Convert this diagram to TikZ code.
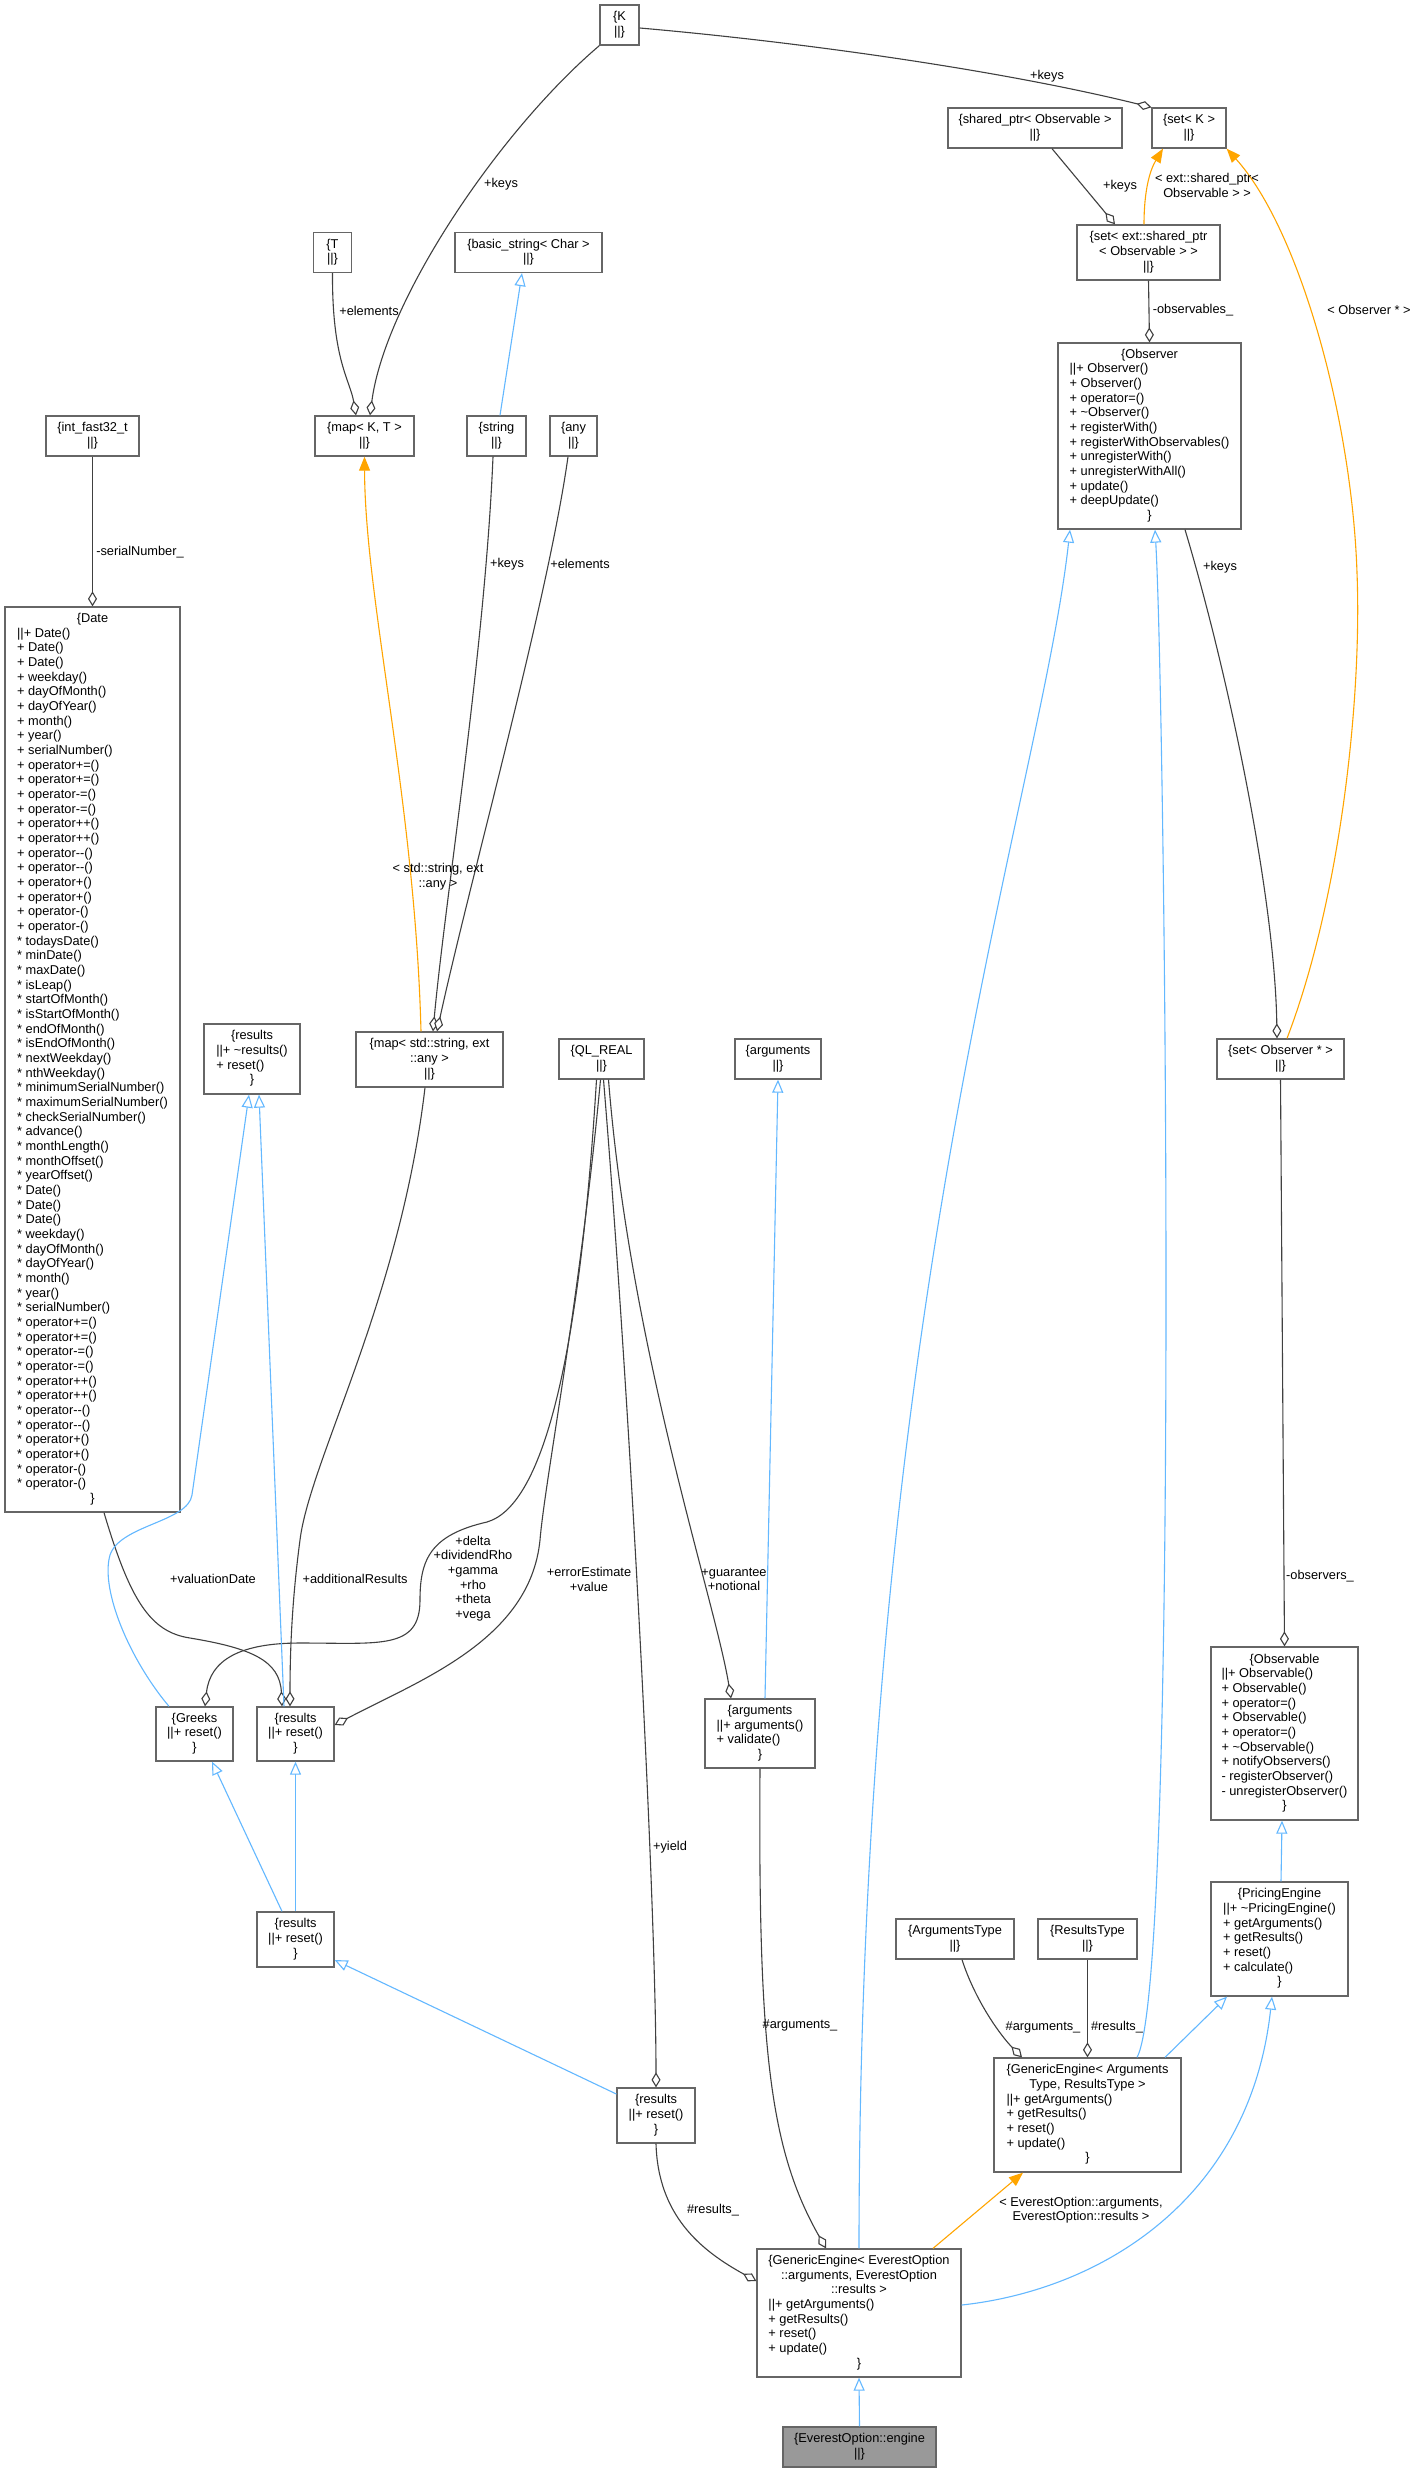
\documentclass[tikz,border=0pt]{standalone}
\usepackage{fontspec}
\setmainfont{Liberation Sans}
\usetikzlibrary{arrows.meta}
\definecolor{edgegray}{HTML}{404040}
\definecolor{nodegray}{HTML}{666666}
\definecolor{inhblue}{HTML}{63B8FF}
\definecolor{tplorange}{HTML}{FFA500}
\definecolor{engfill}{HTML}{999999}
\newcommand{\hdr}[1]{\multicolumn{1}{@{}c@{}}{#1}}
\newcommand{\clsL}[1]{\begin{tabular}{@{}l@{}}#1\end{tabular}}
\newcommand{\clsC}[1]{\begin{tabular}{@{}c@{}}#1\end{tabular}}
\begin{document}
\begin{tikzpicture}[x=1pt,y=-1pt,
  cls/.style={draw=nodegray, line width=1.3pt, fill=white, inner sep=0pt, text=black,
    font=\fontsize{12.8}{14.67}\selectfont},
  lbl/.style={inner sep=0pt, align=center, text=black, font=\fontsize{12.8}{14.67}\selectfont},
  agg/.style={draw=edgegray, line width=1.1pt, -{Diamond[fill=white, length=15pt, width=9pt]}},
  inh/.style={draw=inhblue, line width=1.1pt, -{Triangle[fill=white, length=13pt, width=11pt]}},
  tpl/.style={draw=tplorange, line width=1.1pt, -{Triangle[length=14pt, width=11pt]}}
]
\fill[white] (0,0) rectangle (1418,2472);
\useasboundingbox (0,0) rectangle (1418,2472);

% ---------------- nodes ----------------
\node[cls, minimum width=39pt, minimum height=40pt] (K) at (619.5,25) {\clsC{\{K\\||\}}};
\node[cls, minimum width=74pt, minimum height=40pt] (setK) at (1189,128) {\clsC{\{set< K >\\||\}}};
\node[cls, minimum width=174pt, minimum height=40pt] (shptr) at (1035,128) {\clsC{\{shared\_ptr< Observable >\\||\}}};
\node[cls, minimum width=143pt, minimum height=55pt] (setext) at (1148.5,252.5) {\clsC{\{set< ext::shared\_ptr\\< Observable > >\\||\}}};
\node[cls, minimum width=38pt, minimum height=40pt] (T) at (332.5,252.5) {\clsC{\{T\\||\}}};
\node[cls, minimum width=147pt, minimum height=40pt] (bstr) at (528.5,252.5) {\clsC{\{basic\_string< Char >\\||\}}};
\node[cls, minimum width=93pt, minimum height=40pt] (int) at (92.5,436) {\clsC{\{int\_fast32\_t\\||\}}};
\node[cls, minimum width=99pt, minimum height=40pt] (mapKT) at (364.5,436) {\clsC{\{map< K, T >\\||\}}};
\node[cls, minimum width=59pt, minimum height=40pt] (str) at (496.5,436) {\clsC{\{string\\||\}}};
\node[cls, minimum width=47pt, minimum height=40pt] (any) at (573.5,436) {\clsC{\{any\\||\}}};
\node[cls, minimum width=183pt, minimum height=186pt] (obs) at (1149.5,436) {\clsL{\hdr{\{Observer}\\
||+ Observer()\\
+ Observer()\\
+ operator=()\\
+ \textasciitilde Observer()\\
+ registerWith()\\
+ registerWithObservables()\\
+ unregisterWith()\\
+ unregisterWithAll()\\
+ update()\\
+ deepUpdate()\\
\hdr{\}}}};
\node[cls, minimum width=175pt, minimum height=905pt] (date) at (92.5,1059.5) {\clsL{\hdr{\{Date}\\
||+ Date()\\
+ Date()\\
+ Date()\\
+ weekday()\\
+ dayOfMonth()\\
+ dayOfYear()\\
+ month()\\
+ year()\\
+ serialNumber()\\
+ operator+=()\\
+ operator+=()\\
+ operator-=()\\
+ operator-=()\\
+ operator++()\\
+ operator++()\\
+ operator-{}-()\\
+ operator-{}-()\\
+ operator+()\\
+ operator+()\\
+ operator-()\\
+ operator-()\\
{*} todaysDate()\\
{*} minDate()\\
{*} maxDate()\\
{*} isLeap()\\
{*} startOfMonth()\\
{*} isStartOfMonth()\\
{*} endOfMonth()\\
{*} isEndOfMonth()\\
{*} nextWeekday()\\
{*} nthWeekday()\\
{*} minimumSerialNumber()\\
{*} maximumSerialNumber()\\
{*} checkSerialNumber()\\
{*} advance()\\
{*} monthLength()\\
{*} monthOffset()\\
{*} yearOffset()\\
{*} Date()\\
{*} Date()\\
{*} Date()\\
{*} weekday()\\
{*} dayOfMonth()\\
{*} dayOfYear()\\
{*} month()\\
{*} year()\\
{*} serialNumber()\\
{*} operator+=()\\
{*} operator+=()\\
{*} operator-=()\\
{*} operator-=()\\
{*} operator++()\\
{*} operator++()\\
{*} operator-{}-()\\
{*} operator-{}-()\\
{*} operator+()\\
{*} operator+()\\
{*} operator-()\\
{*} operator-()\\
\hdr{\}}}};
\node[cls, minimum width=96pt, minimum height=70pt] (resT) at (252,1059) {\clsL{\hdr{\{results}\\||+ \textasciitilde results()\\+ reset()\\\hdr{\}}}};
\node[cls, minimum width=147pt, minimum height=55pt] (mapSA) at (429.5,1059.5) {\clsC{\{map< std::string, ext\\::any >\\||\}}};
\node[cls, minimum width=85pt, minimum height=40pt] (real) at (601.5,1059) {\clsC{\{QL\_REAL\\||\}}};
\node[cls, minimum width=86pt, minimum height=40pt] (argT) at (778,1059) {\clsC{\{arguments\\||\}}};
\node[cls, minimum width=127pt, minimum height=40pt] (setObs) at (1280.5,1059) {\clsC{\{set< Observer * >\\||\}}};
\node[cls, minimum width=77pt, minimum height=54pt] (greeks) at (194.5,1734) {\clsL{\hdr{\{Greeks}\\||+ reset()\\\hdr{\}}}};
\node[cls, minimum width=77pt, minimum height=54pt] (resM) at (295.5,1734) {\clsL{\hdr{\{results}\\||+ reset()\\\hdr{\}}}};
\node[cls, minimum width=110pt, minimum height=69pt] (argV) at (760,1733.5) {\clsL{\hdr{\{arguments}\\||+ arguments()\\+ validate()\\\hdr{\}}}};
\node[cls, minimum width=147pt, minimum height=173pt] (obsl) at (1284.5,1733.5) {\clsL{\hdr{\{Observable}\\
||+ Observable()\\
+ Observable()\\
+ operator=()\\
+ Observable()\\
+ operator=()\\
+ \textasciitilde Observable()\\
+ notifyObservers()\\
- registerObserver()\\
- unregisterObserver()\\
\hdr{\}}}};
\node[cls, minimum width=137pt, minimum height=114pt] (pe) at (1279.5,1939) {\clsL{\hdr{\{PricingEngine}\\
||+ \textasciitilde PricingEngine()\\
+ getArguments()\\
+ getResults()\\
+ reset()\\
+ calculate()\\
\hdr{\}}}};
\node[cls, minimum width=77pt, minimum height=55pt] (resL) at (295.5,1939.5) {\clsL{\hdr{\{results}\\||+ reset()\\\hdr{\}}}};
\node[cls, minimum width=118pt, minimum height=40pt] (argTy) at (955,1939) {\clsC{\{ArgumentsType\\||\}}};
\node[cls, minimum width=99pt, minimum height=40pt] (resTy) at (1087.5,1939) {\clsC{\{ResultsType\\||\}}};
\node[cls, minimum width=187pt, minimum height=114pt] (gea) at (1087.5,2115) {\clsL{\hdr{\{GenericEngine< Arguments}\\
\hdr{Type, ResultsType >}\\
||+ getArguments()\\
+ getResults()\\
+ reset()\\
+ update()\\
\hdr{\}}}};
\node[cls, minimum width=78pt, minimum height=55pt] (resB) at (656,2115.5) {\clsL{\hdr{\{results}\\||+ reset()\\\hdr{\}}}};
\node[cls, minimum width=204pt, minimum height=128pt] (gee) at (859,2313) {\clsL{\hdr{\{GenericEngine< EverestOption}\\
\hdr{::arguments, EverestOption}\\
\hdr{::results >}\\
||+ getArguments()\\
+ getResults()\\
+ reset()\\
+ update()\\
\hdr{\}}}};
\node[cls, fill=engfill, minimum width=153pt, minimum height=40pt] (eng) at (859.5,2447) {\clsC{\{EverestOption::engine\\||\}}};

% ---------------- edges ----------------
\draw[agg] ([yshift=-3pt]K.east) .. controls (800,42) and (1000,70) .. (setK.north west);
\draw[agg] (K.south west) .. controls (500,130) and (385,300) .. ([xshift=5.5pt]mapKT.north);
\draw[agg] (T.south) .. controls (332,360) and (350,380) .. ([xshift=-8.5pt]mapKT.north);
\draw[inh] ([xshift=3.5pt]str.north) -- ([xshift=-6.5pt]bstr.south);
\draw[agg] (int.south) -- (date.north);
\draw[agg] (setext.south) -- (obs.north);
\draw[agg] ([xshift=17pt]shptr.south) -- ([xshift=-33.5pt]setext.north);
\draw[tpl] ([xshift=-4.5pt]setext.north) .. controls (1144,190) and (1150,170) .. ([xshift=-26pt]setK.south);
\draw[tpl] ([xshift=6.5pt]setObs.north) .. controls (1340,900) and (1362,700) .. (1357,573) .. controls (1352,420) and (1300,230) .. (setK.south east);
\draw[agg] ([xshift=35.5pt]obs.south) .. controls (1230,680) and (1275,900) .. ([xshift=-3.5pt]setObs.north);
\draw[agg] (setObs.south) -- (obsl.north);
\draw[inh] ([xshift=1.5pt]pe.north) -- ([xshift=-2.5pt]obsl.south);
\draw[inh] ([xshift=49.5pt]gea.north) .. controls (1180,1980) and (1165,700) .. ([xshift=5.5pt]obs.south);
\draw[inh] ([xshift=77.5pt]gea.north) -- ([xshift=-52.5pt]pe.south);
\draw[inh] ([yshift=8pt]gee.east) .. controls (1100,2290) and (1250,2200) .. ([xshift=-7.5pt]pe.south);
\draw[inh] (gee.north) .. controls (859,1300) and (1040,800) .. ([xshift=-79.5pt]obs.south);
\draw[tpl] ([xshift=74pt]gee.north) -- ([xshift=-64.5pt]gea.south);
\draw[inh] (eng.north) -- (gee.south);
\draw[agg] ([xshift=7pt]argTy.south) .. controls (975,2000) and (1000,2035) .. ([xshift=-65.5pt]gea.north);
\draw[agg] (resTy.south) -- (gea.north);
\draw[agg] (resB.south) .. controls (658,2215) and (700,2250) .. ([yshift=32pt]gee.west);
\draw[agg] (argV.south) .. controls (758,2050) and (770,2150) .. ([xshift=-33pt]gee.north);
\draw[agg] ([xshift=2pt]real.south) .. controls (630,1400) and (656,1900) .. (resB.north);
\draw[agg] ([xshift=7pt]real.south) .. controls (630,1350) and (715,1600) .. ([xshift=-29pt]argV.north);
\draw[agg] ([xshift=-1pt]real.south) .. controls (580,1300) and (545,1480) .. (540,1540) .. controls (530,1640) and (420,1680) .. ([yshift=9pt]resM.east);
\draw[agg] ([xshift=-5pt]real.south) .. controls (580,1350) and (545,1505) .. (487,1522) .. controls (430,1535) and (420,1560) .. (420,1600) .. controls (420,1650) and (380,1643) .. (300,1643) .. controls (240,1643) and (210,1660) .. ([xshift=10.5pt]greeks.north);
\draw[agg] ([xshift=11.5pt]date.south) .. controls (130,1600) and (150,1632) .. (190,1638) .. controls (250,1648) and (280,1660) .. ([xshift=-13.5pt]resM.north);
\draw[agg] ([xshift=-4.5pt]mapSA.south) .. controls (400,1300) and (310,1460) .. (300,1540) .. controls (292,1600) and (290,1650) .. ([xshift=-5.5pt]resM.north);
\draw[inh] ([xshift=-11.5pt]resM.north) -- ([xshift=7pt]resT.south);
\draw[inh] ([xshift=-25.5pt]greeks.north) .. controls (130,1660) and (100,1590) .. (110,1555) .. controls (120,1525) and (188,1522) .. (192,1495) -- ([xshift=-3pt]resT.south);
\draw[inh] ([xshift=-13.5pt]resL.north) -- ([xshift=17.5pt]greeks.south);
\draw[inh] (resL.north) -- (resM.south);
\draw[inh] ([yshift=21.5pt]resB.west) -- ([yshift=-20.5pt]resL.east);
\draw[inh] ([xshift=5pt]argV.north) -- (argT.south);
\draw[agg] ([xshift=-3.5pt]str.south) .. controls (485,650) and (445,900) .. ([xshift=3.5pt]mapSA.north);
\draw[agg] ([xshift=-5.5pt]any.south) .. controls (548,600) and (470,880) .. ([xshift=7.5pt]mapSA.north);
\draw[tpl] ([xshift=-8.5pt]mapSA.north) .. controls (415,800) and (365,600) .. (mapKT.south);

% ---------------- labels ----------------
\node[lbl] (l1) at (1047,76) {+keys};
\node[lbl] (l2) at (1120,186) {+keys};
\node[lbl] (l3) at (1207,185.5) {< ext::shared\_ptr<\\Observable > >};
\node[lbl] (l4) at (1369,310) {< Observer * >};
\node[lbl] (l5) at (1193,310) {-observables\_};
\node[lbl] (l6) at (501,184) {+keys};
\node[lbl] (l7) at (369,311) {+elements};
\node[lbl] (l8) at (140,552) {-serialNumber\_};
\node[lbl] (l9) at (507,564) {+keys};
\node[lbl] (l10) at (580,564) {+elements};
\node[lbl] (l11) at (438,877) {< std::string, ext\\::any >};
\node[lbl] (l12) at (1220,567) {+keys};
\node[lbl] (l13) at (213,1579) {+valuationDate};
\node[lbl] (l14) at (355,1579) {+additionalResults};
\node[lbl] (l15) at (473,1578.5) {+delta\\+dividendRho\\+gamma\\+rho\\+theta\\+vega};
\node[lbl] (l16) at (589,1579.5) {+errorEstimate\\+value};
\node[lbl] (l17) at (734,1579.5) {+guarantee\\+notional};
\node[lbl] (l18) at (670,1847) {+yield};
\node[lbl] (l19) at (1320,1576) {-observers\_};
\node[lbl] (l20) at (800,2025) {\#arguments\_};
\node[lbl] (l21) at (1043,2027) {\#arguments\_};
\node[lbl] (l22) at (1117,2027) {\#results\_};
\node[lbl] (l23) at (713,2210) {\#results\_};
\node[lbl] (l24) at (1081,2210) {< EverestOption::arguments,\\EverestOption::results >};
\end{tikzpicture}
\end{document}
